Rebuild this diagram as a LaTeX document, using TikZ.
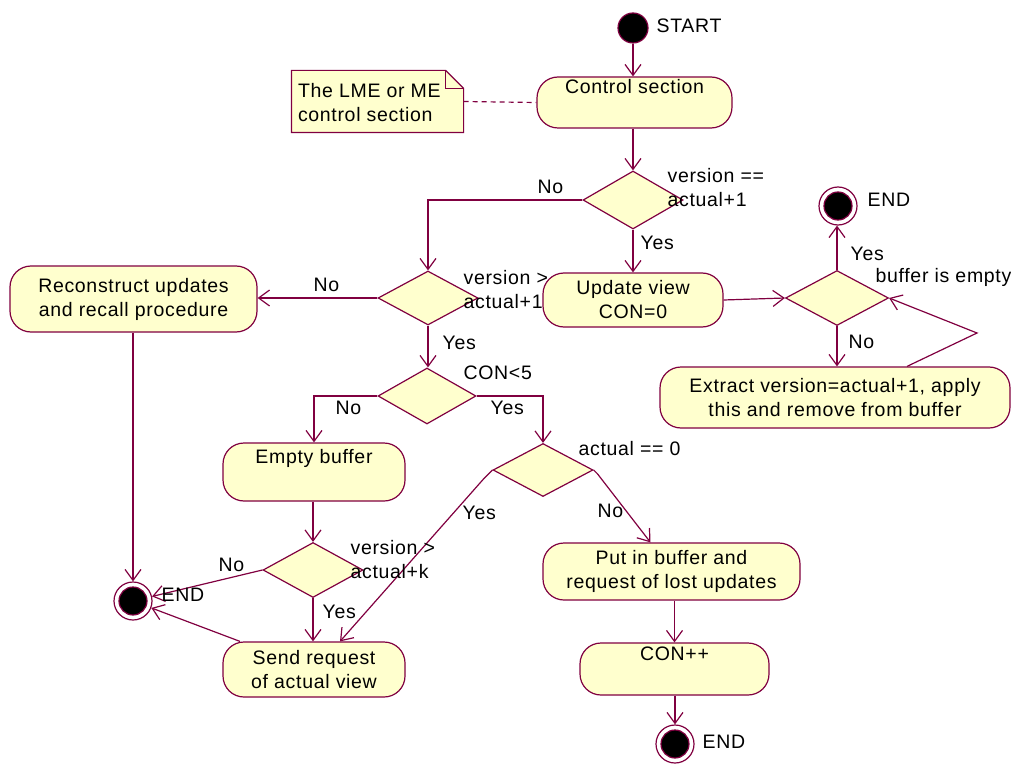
\documentclass[tikz,border=0pt]{standalone}
\usepackage{fontspec}
\setmainfont[LetterSpace=3.5]{Liberation Sans}
\usetikzlibrary{shapes.geometric,arrows.meta}
\definecolor{ln}{RGB}{128,0,64}
\definecolor{fl}{RGB}{255,255,206}
\newcommand{\dfont}{\fontsize{19.5}{24}\selectfont}
\begin{document}
\begin{tikzpicture}[x=1pt,y=-1pt,
  line width=1.2pt,
  >={Straight Barb[length=11pt,width=16pt]},
  act/.style={draw=ln, fill=fl, rounded corners=21pt, align=center, inner sep=0pt, font=\dfont},
  dec/.style={diamond, draw=ln, fill=fl, inner sep=0pt},
  notebox/.style={inner sep=0pt, align=left, font=\dfont, minimum width=171pt, minimum height=61pt},
  notetext/.style={inner sep=0pt, align=left, font=\dfont, anchor=west},
  startnode/.style={circle, draw=ln, fill=black, minimum size=30pt, inner sep=0pt},
  endnode/.style={circle, draw=ln, fill=white, minimum size=38pt, inner sep=0pt,
    path picture={\fill[black, draw=ln] (path picture bounding box.center) circle (14pt);}},
  flow/.style={draw=ln, ->},
  lbl/.style={inner sep=0pt, anchor=west, align=left, font=\dfont}]

\useasboundingbox (0,0) rectangle (1011,767);

% start and control section with its note
\node[startnode] (start) at (633,28) {};
\node[act, minimum width=195pt, minimum height=51pt] (ctrl) at (634.5,102.5) {Control section\\\strut};
\node[notebox] (note) at (377.5,101.5) {};
\draw[draw=ln, fill=fl] (note.north west) -- ([xshift=-18pt]note.north east)
  -- ([yshift=-18pt]note.north east) -- (note.south east) -- (note.south west) -- cycle;
\draw[draw=ln] ([xshift=-18pt]note.north east) -- ([xshift=-18pt,yshift=-18pt]note.north east)
  -- ([yshift=-18pt]note.north east);
\node[notetext] at ([xshift=6pt,yshift=-1pt]note.west) {The LME or ME\\control section};

% decisions
\node[dec, minimum width=100pt, minimum height=58pt] (d1) at (633,200) {};
\node[dec, minimum width=100pt, minimum height=54pt] (d2) at (428,298) {};
\node[dec, minimum width=98pt, minimum height=56pt] (d3) at (427,396) {};
\node[dec, minimum width=100pt, minimum height=53pt] (d4) at (543,470) {};
\node[dec, minimum width=100pt, minimum height=55pt] (d5) at (313,570) {};
\node[dec, minimum width=103pt, minimum height=55pt] (d6) at (837,298) {};

% activities
\node[act, minimum width=247pt, minimum height=66pt] (recon) at (133.5,299) {Reconstruct updates\\and recall procedure};
\node[act, minimum width=180pt, minimum height=54pt] (upd) at (633,300) {Update view\\CON=0};
\node[act, minimum width=350pt, minimum height=61pt] (extract) at (835,397.5) {Extract version=actual+1, apply\\this and remove from buffer};
\node[act, minimum width=182pt, minimum height=58pt] (empty) at (314,472) {Empty buffer\\\strut};
\node[act, minimum width=182pt, minimum height=55pt] (send) at (314,669.5) {Send request\\of actual view};
\node[act, minimum width=257pt, minimum height=57pt] (put) at (671.5,571.5) {Put in buffer and\\request of lost updates};
\node[act, minimum width=189pt, minimum height=52pt] (conpp) at (674.5,669) {CON++\\\strut};

% end states
\node[endnode] (e1) at (838,206) {};
\node[endnode] (e2) at (133,601) {};
\node[endnode] (e3) at (675,744) {};

% connectors
\draw[draw=ln, dash pattern=on 5pt off 4pt] (note.east) -- (ctrl.west);
\draw[flow] (start) -- (start |- ctrl.north);
\draw[flow] (ctrl.south -| d1.north) -- (d1.north);
\draw[flow] (d1.west) -| (d2.north);
\draw[flow] (d1.south) -- (d1.south |- upd.north);
\draw[flow] (d2.west) -- (d2.west -| recon.east);
\draw[flow] (d2.south) -- (d2.south |- d3.north);
\draw[flow] (d3.west) -| (empty.north);
\draw[flow] (d3.east) -| (d4.north);
\draw[flow] (d4.west) -- ([xshift=-8pt,yshift=-8pt]d4.west) -- ([xshift=26pt]send.north);
\draw[flow] (d4.east) -- ([xshift=4pt,yshift=-4pt]d4.east) -- ([xshift=-21pt]put.north);
\draw[flow] (conpp.north |- put.south) -- (conpp.north);
\draw[flow] (conpp.south -| e3.north) -- (e3.north);
\draw[flow] (empty.south -| d5.north) -- (d5.north);
\draw[flow] (d5.west) -- (e2);
\draw[flow] (d5.south) -- (d5.south |- send.north);
\draw[flow] ([xshift=-74pt]send.north) -- (e2);
\draw[flow] (e2.north |- recon.south) -- (e2.north);
\draw[flow] (upd.east) -- (d6.west);
\draw[flow] (d6.north) -- (d6.north |- e1.south);
\draw[flow] (d6.south) -- (d6.south |- extract.north);
\coordinate (loop) at (977,333);
\draw[flow] ([xshift=72pt]extract.north) -- (loop) -- (d6.east);

% labels
\node[lbl] at (656,26) {START};
\node[lbl] at (667,188) {version ==\\actual+1};
\node[lbl] at (537,187) {No};
\node[lbl] at (640,243) {Yes};
\node[lbl] at (463,290) {version >\\actual+1};
\node[lbl] at (313,285) {No};
\node[lbl] at (442,343) {Yes};
\node[lbl] at (463,373) {CON<5};
\node[lbl] at (335,408) {No};
\node[lbl] at (490,408) {Yes};
\node[lbl] at (578,449) {actual == 0};
\node[lbl] at (462,513) {Yes};
\node[lbl] at (597,511) {No};
\node[lbl] at (350,560) {version >\\actual+k};
\node[lbl] at (218,565) {No};
\node[lbl] at (322,612) {Yes};
\node[lbl] at (161,595) {END};
\node[lbl] at (702,742) {END};
\node[lbl] at (867,200) {END};
\node[lbl] at (850,254) {Yes};
\node[lbl] at (875,277) {buffer is empty};
\node[lbl] at (848,342) {No};
\end{tikzpicture}
\end{document}
